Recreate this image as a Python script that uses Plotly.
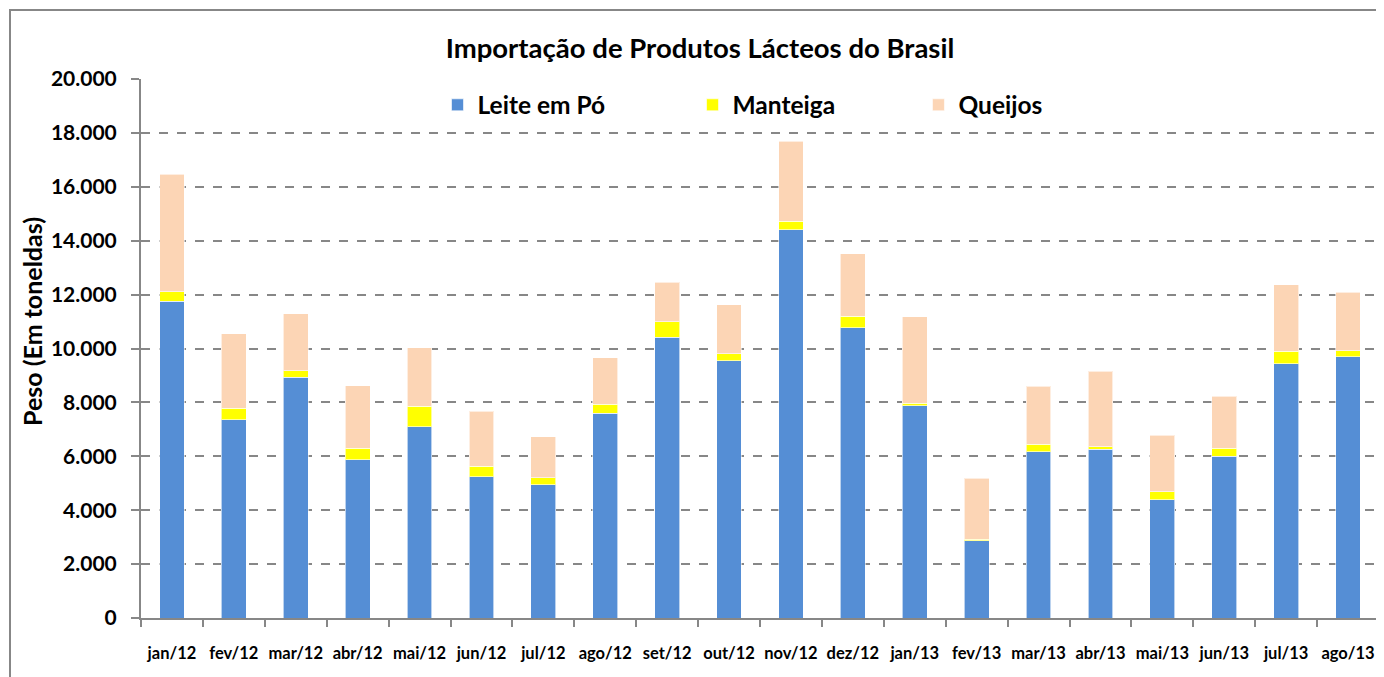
import plotly.graph_objects as go

# ---------------------------------------------------------------------------
# Dados (toneladas)
# ---------------------------------------------------------------------------

meses = ["jan/12", "fev/12", "mar/12", "abr/12", "mai/12", "jun/12", "jul/12",
         "ago/12", "set/12", "out/12", "nov/12", "dez/12", "jan/13", "fev/13",
         "mar/13", "abr/13", "mai/13", "jun/13", "jul/13", "ago/13"]

leite_em_po = [11750, 7360, 8930, 5880, 7100, 5240, 4940, 7600, 10410, 9550,
               14410, 10770, 7880, 2870, 6170, 6270, 4380, 6000, 9440, 9700]

manteiga = [360, 430, 250, 420, 760, 400, 270, 340, 590, 250,
            310, 430, 90, 50, 280, 80, 310, 290, 450, 220]

queijos = [4360, 2760, 2110, 2320, 2170, 2030, 1520, 1710, 1450, 1830,
           2970, 2310, 3210, 2270, 2150, 2800, 2090, 1930, 2470, 2170]

y_ticks = [0, 2000, 4000, 6000, 8000, 10000, 12000, 14000, 16000, 18000, 20000]

# ---------------------------------------------------------------------------
# Grafico
# ---------------------------------------------------------------------------

FONT = "Lato"
GRID = "#878787"
OFF = 8   # margine del body html

series = [
    ("Leite em Pó", leite_em_po, "#558ED5", "legend",  0.2395),
    ("Manteiga",    manteiga,    "#FFFF00", "legend2", 0.4455),
    ("Queijos",     queijos,     "#FCD5B5", "legend3", 0.628),
]

leg_font = dict(family=FONT, size=24.5, color="black", weight="bold")
def legend_at(x):
    return dict(x=x, y=0.952, xanchor="left", yanchor="middle",
                orientation="h", font=leg_font, bgcolor="rgba(0,0,0,0)")

fig = go.Figure()
legends = {}
for name, vals, color, leg, lx in series:
    fig.add_trace(go.Bar(
        x=meses, y=vals, name=name, legend=leg, showlegend=True,
        marker=dict(color=color, line=dict(color="rgba(255,255,255,0.6)", width=1)),
    ))
    legends[leg] = legend_at(lx)

fig.update_layout(
    width=1384, height=677,
    barmode="stack", bargap=0.6,
    separators=",.",
    showlegend=True,
    paper_bgcolor="white", plot_bgcolor="white",
    margin=dict(l=141 - OFF, r=5 + OFF, t=79 - OFF, b=59 + OFF, autoexpand=False),
    font=dict(family=FONT, color="black"),
    title=dict(text="<b>Importação de Produtos Lácteos do Brasil</b>",
               x=(700 - OFF) / 1384, xanchor="center",
               y=1 - (48 - OFF) / 677, yanchor="middle",
               font=dict(family=FONT, size=27.5, color="black")),
    **legends,
    xaxis=dict(
        showline=True, linecolor=GRID, linewidth=2,
        ticks="outside", tickson="boundaries", ticklen=7, tickcolor=GRID, tickwidth=2,
        tickangle=0, automargin=False,
        ticklabelstandoff=19,
        tickfont=dict(family=FONT, size=16.5, weight="bold"),
        showgrid=False,
    ),
    yaxis=dict(
        range=[0, 20000], tickvals=y_ticks, tickformat=",d",
        showline=True, linecolor=GRID, linewidth=2,
        ticks="outside", ticklen=8, tickcolor=GRID, tickwidth=2,
        ticklabelstandoff=10, automargin=False,
        tickfont=dict(family=FONT, size=21, weight="bold"),
        showgrid=True, gridcolor=GRID, gridwidth=1.5, griddash="dash",
        zeroline=False,
    ),
    annotations=[dict(
        text="<b>Peso (Em toneldas)</b>", textangle=-90,
        xref="paper", yref="paper", x=(32 - 141) / 1238, y=(618 - 322) / 539,
        xanchor="center", yanchor="middle", showarrow=False,
        font=dict(family=FONT, size=25, color="black"),
    )],
    shapes=[dict(
        type="rect", xref="paper", yref="paper",
        x0=(10 - 141) / 1238, x1=1.02, y0=-0.2, y1=(618 - 10) / 539,
        line=dict(color=GRID, width=2), fillcolor="rgba(0,0,0,0)", layer="below",
    )],
)

fig.write_html("out.html")
